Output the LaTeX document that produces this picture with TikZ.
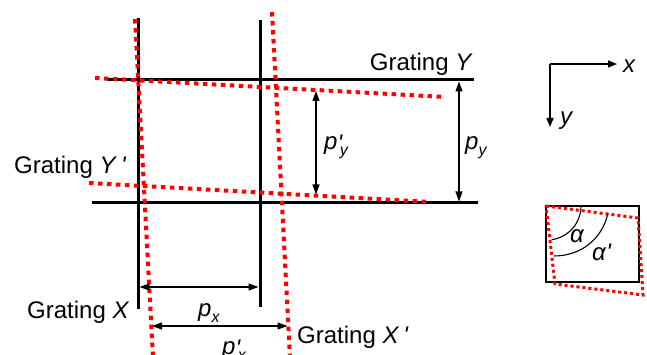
\documentclass[tikz,border=0pt]{standalone}
\usepackage{fontspec}
\setmainfont{Liberation Sans}
\usetikzlibrary{arrows.meta}
\newcommand{\subsz}[1]{\raisebox{-6pt}{\fontsize{16}{16}\selectfont\textit{#1}}}
\newcommand{\prm}{\textit{\textquotesingle}}
\begin{document}
\begin{tikzpicture}[x=1pt,y=-1pt,
  blk/.style={line width=3pt,black},
  red/.style={line width=4pt,draw={rgb,255:red,255;green,0;blue,0},dash pattern=on 4.5pt off 4.5pt},
  redsm/.style={line width=3pt,draw={rgb,255:red,255;green,0;blue,0},dash pattern=on 3pt off 3pt},
  dim/.style={line width=1.2pt,{Triangle[length=10pt,width=7pt]}-{Triangle[length=10pt,width=7pt]}},
  axis/.style={line width=1.4pt,-{Triangle[length=9pt,width=7pt]}},
  lbl/.style={inner sep=0pt,font=\fontsize{24}{28}\selectfont},
  thin/.style={line width=1.1pt}]
\useasboundingbox (0,0) rectangle (647,355);
% black gratings
\coordinate (x1t) at (138,18);  \coordinate (x1b) at (138,309);
\coordinate (x2t) at (260,20);  \coordinate (x2b) at (260,307);
\coordinate (y1l) at (107,80);  \coordinate (y1r) at (474,80);
\coordinate (y2l) at (92,203);  \coordinate (y2r) at (478,203);
\draw[blk] (x1t) -- (x1b);
\draw[blk] (x2t) -- (x2b);
\draw[blk] (y1l) -- (y1r);
\draw[blk] (y2l) -- (y2r);
% red gratings
\coordinate (r1t) at (135,19);  \coordinate (r1b) at (153,358);
\coordinate (r2t) at (272,12);  \coordinate (r2b) at (290,358);
\coordinate (s1l) at (95,78);   \coordinate (s1r) at (445,97);
\coordinate (s2l) at (89,183);  \coordinate (s2r) at (430,202);
\draw[red] (r1t) -- (r1b);
\draw[red] (r2t) -- (r2b);
\draw[red] (s1l) -- (s1r);
\draw[red] (s2l) -- (s2r);
% dimension arrows
\coordinate (pyt) at (459,81.5);  \coordinate (pyb) at (459,201.5);
\coordinate (qyt) at (316,91);    \coordinate (qyb) at (316,194.5);
\coordinate (pxl) at (139.5,287); \coordinate (pxr) at (258.5,287);
\coordinate (qxl) at (152,326);   \coordinate (qxr) at (287.5,326);
\draw[dim] (pyt) -- (pyb);
\draw[dim] (qyt) -- (qyb);
\draw[dim] (pxl) -- (pxr);
\draw[dim] (qxl) -- (qxr);
% labels
\node[lbl,anchor=base east] (gy) at (473,71) {Grating \textit{Y}};
\node[lbl,anchor=base west] (gy2) at (14,174) {Grating \textit{Y}\,\prm};
\node[lbl,anchor=base west] (gx) at (27,318) {Grating \textit{X}};
\node[lbl,anchor=base west] (gx2) at (297,343) {Grating \textit{X}\,\prm};
\node[lbl,anchor=base west] (lpy) at (465,150) {\textit{p}\subsz{y}};
\node[lbl,anchor=base west] (lqy) at (324,150) {\textit{p}\raisebox{-2pt}{\prm}\kern-3pt\subsz{y}};
\node[lbl,anchor=base west] (lpx) at (198,316) {\textit{p}\subsz{x}};
\node[lbl,anchor=base west] (lqx) at (222,354) {\textit{p}\raisebox{-2pt}{\prm}\kern-3pt\subsz{x}};
% axes
\coordinate (o) at (550,64);
\coordinate (ax) at (617,64);
\coordinate (ay) at (550,127);
\draw[axis] (o) -- (ax);
\draw[axis] (o) -- (ay);
\node[lbl,anchor=base west] (lx) at (623,73) {\textit{x}};
\node[lbl,anchor=base west] (ly) at (560,125) {\textit{y}};
% angle box
\coordinate (b1) at (546,206); \coordinate (b3) at (639,282);
\draw[line width=2.6pt] (b1) rectangle (b3);
\coordinate (c2) at (638,218); \coordinate (c3) at (643,295); \coordinate (c4) at (555,284);
\draw[redsm] (b1) -- (c2) -- (c3) -- (c4) -- cycle;
\draw[thin] ([xshift=35pt]b1) arc[start angle=0,end angle=-82,radius=34pt];
\draw[thin] (608,213) .. controls (602,240) and (580,256) .. (554,256);
\node[lbl,anchor=base west] (la) at (570,243) {\textit{α}};
\node[lbl,anchor=base west] (la2) at (592,260) {\textit{α}\prm};
\end{tikzpicture}
\end{document}
